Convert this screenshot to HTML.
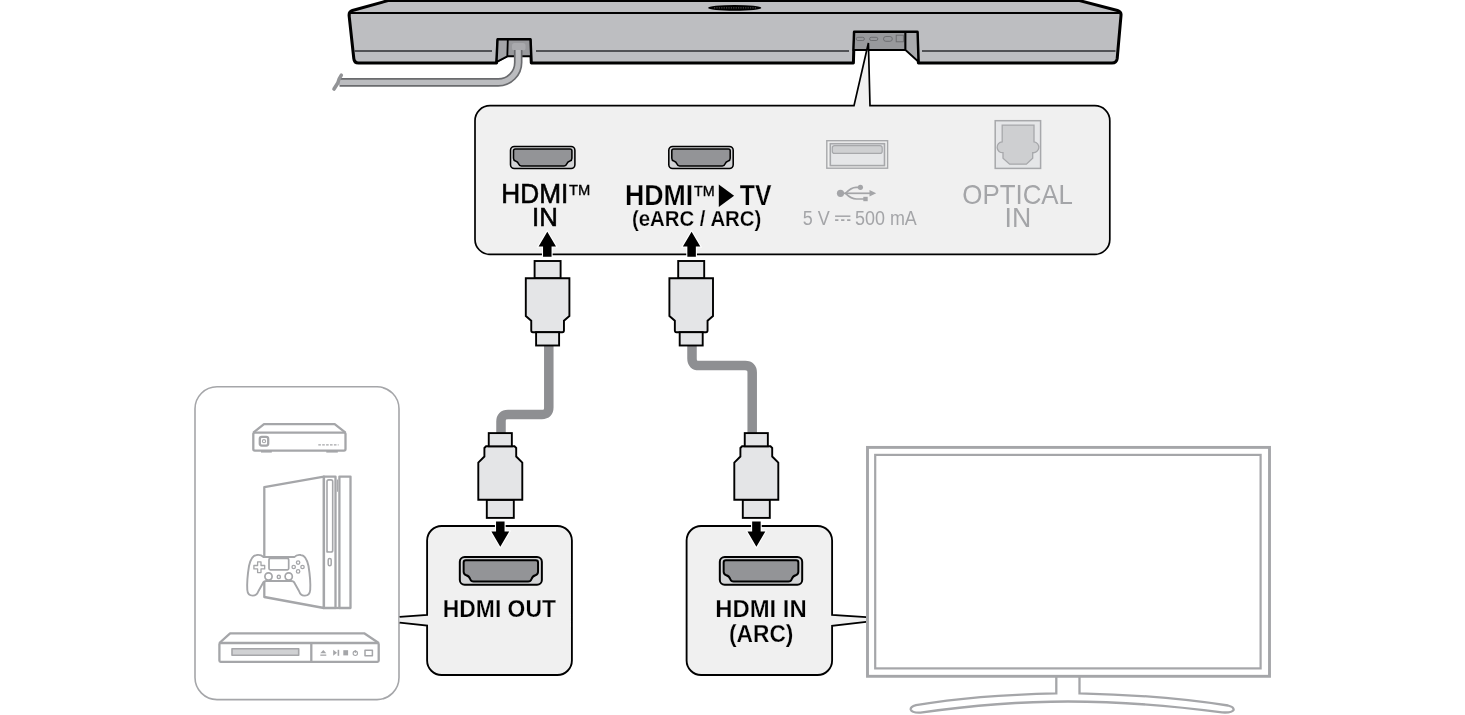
<!DOCTYPE html>
<html><head><meta charset="utf-8">
<style>
html,body{margin:0;padding:0;background:#fff;width:1465px;height:715px;overflow:hidden}
svg{display:block;will-change:transform}
text{font-family:"Liberation Sans",sans-serif}
</style></head>
<body>
<svg width="1465" height="715" viewBox="0 0 1465 715">
<defs>
  <!-- HDMI port, 66 x 23.6 -->
  <g id="port">
    <rect x="0.8" y="0.8" width="64.4" height="22.1" rx="3.8" fill="#d3d4d6" stroke="#000" stroke-width="1.55"/>
    <path d="M3.8,5.2 Q3.8,3.4 5.6,3.4 H60.4 Q62.2,3.4 62.2,5.2 V12.6 Q62.2,14.8 60.2,15.3 Q57.8,15.9 57,18.5 Q56.4,20.4 54.4,20.4 H11.6 Q9.6,20.4 9,18.5 Q8.2,15.9 5.8,15.3 Q3.8,14.8 3.8,12.6 Z" fill="#939497" stroke="#000" stroke-width="1.55" stroke-linejoin="round"/>
  </g>
  <!-- upward connector centered at 0; tip top at 0 -->
  <g id="connUp" fill="#e4e5e7" stroke="#000" stroke-width="1.9" stroke-linejoin="miter">
    <rect x="-13" y="1" width="26" height="17.3"/>
    <path d="M-21.8,18.3 H21.8 V56 L16.35,60.8 V70.6 Q16.35,72.2 14.75,72.2 H-14.75 Q-16.35,72.2 -16.35,70.6 V60.8 L-21.8,56 Z"/>
    <rect x="-11.5" y="72.2" width="23" height="13.3"/>
  </g>
  <!-- downward connector centered at 0; strain relief top at 0 -->
  <g id="connDown" fill="#e4e5e7" stroke="#000" stroke-width="1.9" stroke-linejoin="miter">
    <rect x="-13.5" y="67.7" width="27" height="18.1"/>
    <path d="M-14.2,14.2 H14.2 L15.9,15.9 V24.4 L22,30.6 V67.7 H-22 V30.6 L-15.9,24.4 V15.9 Z"/>
    <rect x="-11.55" y="1" width="23.1" height="13.2"/>
  </g>
  <g id="arrowUp">
    <path d="M0,0 L8.7,14.8 H4.25 V25 H-4.25 V14.8 H-8.7 Z" fill="#000" stroke="#fff" stroke-width="2.2" paint-order="stroke" stroke-linejoin="miter"/>
  </g>
  <g id="arrowDown">
    <path d="M0,25.4 L-8.9,10.2 H-4.25 V0 H4.25 V10.2 H8.9 Z" fill="#000" stroke="#fff" stroke-width="2.2" paint-order="stroke"/>
  </g>
</defs>

<!-- ================= SOUNDBAR ================= -->
<g id="soundbar">
  <!-- body -->
  <path d="M388,0.6 H1079.5 L1117.5,10.5 Q1121.5,11.8 1121,15.5 L1117.2,58.5 Q1116.6,63 1112,63 H918.4 L917.3,32.1 H854.3 L853.4,63 H531.3 L530.3,39.5 H497.8 L496.6,63 H358.5 Q354.2,63 353.8,58.5 L349.1,15.5 Q348.8,11.8 352.4,10.5 Z" fill="#bdbec1" stroke="#000" stroke-width="3" stroke-linejoin="round"/>
  <!-- inner top line -->
  <line x1="351" y1="13" x2="1119.5" y2="13" stroke="#000" stroke-width="1.8"/>
  <!-- inner bottom lines -->
  <line x1="354.5" y1="51" x2="492" y2="51" stroke="#2e2e30" stroke-width="1.4"/>
  <line x1="536" y1="51" x2="849" y2="51" stroke="#2e2e30" stroke-width="1.4"/>
  <line x1="922" y1="51" x2="1115.5" y2="51" stroke="#2e2e30" stroke-width="1.4"/>
  <!-- top ellipse -->
  <ellipse cx="734.7" cy="7.9" rx="26.6" ry="2.9" fill="#000"/>
  <line x1="714" y1="7.9" x2="756" y2="7.9" stroke="#777" stroke-width="0.8" stroke-dasharray="1.2 1.2"/>
  <!-- left recess -->
  <path d="M497.8,39.5 H530.3 L531,56.3 H507.3 L496.8,61.8 Z" fill="#98999c" stroke="#000" stroke-width="2" stroke-linejoin="round"/>
  <path d="M497.8,39.5 H507.8 L507.3,56.3 L496.8,61.8 Z" fill="#a4a5a8" stroke="#000" stroke-width="1.8" stroke-linejoin="round"/>
  <rect x="512" y="43" width="13.5" height="7.5" rx="2.5" fill="#a9aaad"/>
  <!-- right recess -->
  <path d="M854.3,32.1 H905.5 V50 H853.6 Z" fill="#98999c" stroke="#000" stroke-width="2"/>
  <path d="M905.5,32.1 H917.3 L918.2,61.5 L905.5,50 Z" fill="#a9aaad" stroke="#000" stroke-width="1.8" stroke-linejoin="round"/>
  <g fill="none" stroke="#6a6b6e" stroke-width="0.9">
    <rect x="856.2" y="37.3" width="8.2" height="3.2" rx="1.6"/>
    <rect x="869.6" y="37.3" width="8.2" height="3.2" rx="1.6"/>
    <rect x="883.5" y="36.5" width="8.8" height="4.8" rx="2.4"/>
    <rect x="896.2" y="35.2" width="7.2" height="6.6"/>
  </g>
</g>

<!-- power cable -->
<path d="M518.2,50 V62.4 A20,20 0 0 1 498.2,82.4 H339.5" fill="none" stroke="#6a6b6e" stroke-width="8.6"/>
<path d="M518.2,50 V62.4 A20,20 0 0 1 498.2,82.4 H339.5" fill="none" stroke="#bbbcbf" stroke-width="5.2"/>
<path d="M341.3,75.2 Q338.5,79 337.8,83 L334,89" fill="none" stroke="#929396" stroke-width="3.6" stroke-linecap="round"/>

<!-- ================= TOP PANEL ================= -->
<path d="M490,105.7 H854 L868.4,43 L870,105.7 H1094.8 A15,15 0 0 1 1109.8,120.7 V239.4 A15,15 0 0 1 1094.8,254.4 H490 A15,15 0 0 1 475,239.4 V120.7 A15,15 0 0 1 490,105.7 Z" fill="#f0f0f0" stroke="#000" stroke-width="1.7" stroke-linejoin="miter"/>

<use href="#port" x="509.7" y="145.6"/>
<use href="#port" x="668" y="145.6"/>

<!-- HDMI IN text -->
<text x="501.3" y="202.9" font-size="27.2" fill="#000" stroke="#000" stroke-width="0.6" textLength="66.96" lengthAdjust="spacingAndGlyphs">HDMI</text>
<text x="568.93" y="195.1" font-size="15.5" fill="#000" stroke="#000" stroke-width="0.35" textLength="21.3" lengthAdjust="spacingAndGlyphs">TM</text>
<text x="532.1" y="226.2" font-size="26.7" fill="#000" stroke="#000" stroke-width="0.6" textLength="25.8" lengthAdjust="spacingAndGlyphs">IN</text>

<!-- HDMI > TV text -->
<text x="625.07" y="204.5" font-size="28.9" font-weight="bold" fill="#000" stroke="#f0f0f0" stroke-width="0.25" textLength="68.17" lengthAdjust="spacingAndGlyphs">HDMI</text>
<text x="693.94" y="195.7" font-size="15.4" fill="#000" stroke="#000" stroke-width="0.4" textLength="20.66" lengthAdjust="spacingAndGlyphs">TM</text>
<path d="M718.8,184.6 L734.1,195.75 L718.8,206.9 Z" fill="#000"/>
<text x="739.85" y="204.5" font-size="28.9" font-weight="bold" fill="#000" stroke="#f0f0f0" stroke-width="0.25" textLength="31.64" lengthAdjust="spacingAndGlyphs">TV</text>
<text x="631.88" y="225.5" font-size="22.9" font-weight="bold" fill="#000" stroke="#f0f0f0" stroke-width="0.25" textLength="129.47" lengthAdjust="spacingAndGlyphs">(eARC / ARC)</text>

<!-- USB -->
<rect x="826.8" y="140.7" width="60.8" height="27.5" fill="#f0f0f0" stroke="#a7a8ab" stroke-width="1.4"/>
<rect x="830.3" y="143.7" width="54.2" height="21.9" fill="#e5e6e8" stroke="#a7a8ab" stroke-width="1.6"/>
<rect x="832.3" y="145.7" width="49.9" height="7.7" rx="2.2" fill="#cfd0d2" stroke="#a7a8ab" stroke-width="1.2"/>
<g fill="#a4a5a8" stroke="#a4a5a8">
  <circle cx="840.5" cy="193.3" r="3.6" stroke="none"/>
  <path d="M840.5,193.3 H871" stroke-width="1.7" fill="none"/>
  <path d="M876.2,193.3 L869.5,190.1 V196.5 Z" stroke="none"/>
  <path d="M845.5,193.3 C849,189.6 852,187.3 856,187.3 H859" stroke-width="1.7" fill="none"/>
  <circle cx="860.4" cy="187.3" r="2.6" stroke="none"/>
  <path d="M845.5,193.3 C849.5,197.3 852.5,199 856.5,199 H864" stroke-width="1.7" fill="none"/>
  <rect x="863.3" y="196.8" width="4.4" height="4.4" stroke="none"/>
</g>
<text x="802.68" y="224.9" font-size="20.3" fill="#a4a5a8" textLength="27.03" lengthAdjust="spacingAndGlyphs">5 V</text>
<line x1="835.1" y1="216.2" x2="850.4" y2="216.2" stroke="#a4a5a8" stroke-width="1.5"/>
<line x1="835.1" y1="220.1" x2="850.4" y2="220.1" stroke="#a4a5a8" stroke-width="1.6" stroke-dasharray="3.3 2.7"/>
<text x="854.98" y="224.9" font-size="20.3" fill="#a4a5a8" textLength="61.83" lengthAdjust="spacingAndGlyphs">500 mA</text>

<!-- OPTICAL -->
<rect x="995.2" y="120.7" width="45.4" height="47.7" fill="#e5e6e8" stroke="#a7a8ab" stroke-width="1.5"/>
<path d="M1002.2,125.1 H1034 V141.8 A5.45,5.45 0 0 1 1032.7,152.7 V158.2 L1026.4,164.2 H1009.6 L1003,158.2 V152.7 A5.45,5.45 0 0 1 1002.2,141.8 Z" fill="#cecfd1" stroke="#a7a8ab" stroke-width="1.3"/>
<text x="962.34" y="203.8" font-size="27.25" fill="#a4a5a8" textLength="110.64" lengthAdjust="spacingAndGlyphs">OPTICAL</text>
<text x="1004.6" y="227.1" font-size="27.25" fill="#a4a5a8" textLength="26.63" lengthAdjust="spacingAndGlyphs">IN</text>

<!-- ================= CABLES & CONNECTORS ================= -->
<g fill="none" stroke="#8e8f92" stroke-width="9.5" stroke-linejoin="round">
  <path d="M548.8,345 V407.5 Q548.8,414.5 541.8,414.5 H508 Q501,414.5 501,421.5 V433"/>
  <path d="M692,345 V358.5 Q692,365.6 699,365.6 H745.2 Q752.2,365.6 752.2,372.6 V433"/>
</g>

<use href="#arrowUp" x="547.3" y="231.7"/>
<use href="#arrowUp" x="691.6" y="231.7"/>

<use href="#connUp" x="547.6" y="260"/>
<use href="#connUp" x="691.2" y="260"/>
<use href="#connDown" x="500.3" y="432.1"/>
<use href="#connDown" x="756.3" y="432.1"/>

<!-- ================= DEVICE PANEL (left) ================= -->
<rect x="195" y="386.8" width="204" height="312.8" rx="22" fill="#fff" stroke="#a5a6a9" stroke-width="1.6"/>
<g fill="none" stroke="#a5a6a9" stroke-width="2.3" stroke-linejoin="round">
  <!-- set top box -->
  <path d="M253.3,432.6 L264,424.1 H334.7 L345.5,432.6"/>
  <rect x="253.3" y="432.6" width="92.2" height="18" rx="1.5"/>
  <rect x="259.8" y="436.9" width="8.4" height="8.7" rx="2"/>
  <circle cx="264" cy="441.2" r="1.6" stroke-width="1.1"/>
  <line x1="261" y1="451.8" x2="271.8" y2="451.8" stroke-width="1.6"/>
  <line x1="326.3" y1="451.8" x2="337.8" y2="451.8" stroke-width="1.6"/>
  <line x1="318.3" y1="444.9" x2="338.6" y2="444.9" stroke-width="1.4" stroke-dasharray="2.6 1.3"/>
  <!-- console -->
  <path d="M264.3,487.2 L323.9,476.6 V608 L264.3,597 Z"/>
  <rect x="323.9" y="476.6" width="11.6" height="131.4"/>
  <path d="M327,552 V481.6 Q327,479.9 328.7,479.9 H331 Q332.7,479.9 332.7,481.6 V550.2 Q332.7,552 331,552 H328.7 Q327,552 327,550.2 Z" stroke-width="1.6"/>
  <rect x="328.2" y="558.6" width="3" height="7.2" rx="1.5" stroke-width="1.5"/>
  <rect x="339.4" y="476.6" width="11.1" height="131.4"/>
  <line x1="337.4" y1="479.5" x2="337.4" y2="491.7" stroke-width="1.1"/>
  <line x1="335.5" y1="608" x2="339.4" y2="608"/>
  <!-- controller -->
  <path d="M263.5,557 H294.5 C296,555 298,554.5 301,555 C305,555.5 307,559 308.5,566 C309.8,574 310.6,584 310.2,590 C309.8,594.6 307.3,595.6 305,595.6 C302,596 300,594 299,591 L294.5,583 C294,581.5 293,581 291,581 H266.5 C264.5,581 263.5,581.5 263,583 L258.5,591 C257.5,593.8 255.5,595.6 252.7,595.6 C250.2,595.6 247.6,594.6 247.3,590 C246.9,584 247.7,574 249,566 C250.5,559 252.5,555.5 256.5,555 C259.5,554.5 261.5,555 263.5,557 Z" fill="#fff" stroke-width="1.9"/>
  <rect x="269" y="558.4" width="19.7" height="11.4" rx="1.3" stroke-width="1.7"/>
  <circle cx="268.5" cy="576.5" r="3.6" stroke-width="1.7"/>
  <circle cx="288.7" cy="576.5" r="3.6" stroke-width="1.7"/>
  <circle cx="278.8" cy="576.9" r="1.6" stroke-width="1.4"/>
  <path d="M257.6,561.8 H261 V565.5 H264.7 V568.9 H261 V572.6 H257.6 V568.9 H253.9 V565.5 H257.6 Z" stroke-width="1.3" stroke-linejoin="round"/>
  <circle cx="298.1" cy="562.6" r="1.7" stroke-width="1.3"/>
  <circle cx="298.1" cy="571.4" r="1.7" stroke-width="1.3"/>
  <circle cx="293.7" cy="567" r="1.7" stroke-width="1.3"/>
  <circle cx="302.5" cy="567" r="1.7" stroke-width="1.3"/>
  <!-- blu-ray -->
  <path d="M219.4,643 L230.1,633.3 H364.2 L378.7,643"/>
  <rect x="219.4" y="643" width="159.3" height="18.8" rx="1.2"/>
  <line x1="311.3" y1="643" x2="311.3" y2="661.8"/>
  <rect x="232" y="648.7" width="66.7" height="6.6" fill="#d0d1d3" stroke-width="1.6"/>
  <rect x="365" y="650.3" width="7.4" height="5.4" stroke-width="1.5"/>
</g>
<g fill="#a5a6a9">
  <path d="M320.3,653.3 L323.3,650 L326.3,653.3 Z"/>
  <rect x="320.3" y="654.5" width="6" height="1.3"/>
  <path d="M333.2,649.8 L337,652.8 L333.2,655.8 Z"/>
  <rect x="337.6" y="649.8" width="1.6" height="6"/>
  <rect x="343.3" y="650.2" width="4.8" height="5.2"/>
  <circle cx="355.3" cy="653.3" r="2.2" fill="none" stroke="#a5a6a9" stroke-width="1.1"/>
  <rect x="354.8" y="650" width="1" height="3"/>
</g>

<!-- ================= BOTTOM PANELS ================= -->
<!-- HDMI OUT panel with pointer to device panel -->
<path d="M441.6,526 H557.4 A14.5,14.5 0 0 1 571.9,540.5 V660.5 A14.5,14.5 0 0 1 557.4,675 H441.6 A14.5,14.5 0 0 1 427.1,660.5 V625.7 L399.6,622.6 V616.8 L427.1,614.8 V540.5 A14.5,14.5 0 0 1 441.6,526 Z" fill="#f0f0f0"/>
<path d="M399.6,622.6 L427.1,625.7 V660.5 A14.5,14.5 0 0 0 441.6,675 H557.4 A14.5,14.5 0 0 0 571.9,660.5 V540.5 A14.5,14.5 0 0 0 557.4,526 H441.6 A14.5,14.5 0 0 0 427.1,540.5 V614.8 L399.6,616.8" fill="none" stroke="#000" stroke-width="1.85"/>
<use href="#port" transform="translate(458.8,556) scale(1.274,1.254)"/>
<text x="442.81" y="616.6" font-size="24.2" font-weight="bold" fill="#000" stroke="#f0f0f0" stroke-width="0.25" textLength="113.09" lengthAdjust="spacingAndGlyphs">HDMI OUT</text>

<!-- HDMI IN (ARC) panel with pointer to TV -->
<path d="M701.1,526 H817.6 A14.5,14.5 0 0 1 832.1,540.5 V614.8 L866.2,617.1 V621.8 L832.1,625.8 V660.5 A14.5,14.5 0 0 1 817.6,675 H701.1 A14.5,14.5 0 0 1 686.6,660.5 V540.5 A14.5,14.5 0 0 1 701.1,526 Z" fill="#f0f0f0"/>
<path d="M866.2,617.1 L832.1,614.8 V540.5 A14.5,14.5 0 0 0 817.6,526 H701.1 A14.5,14.5 0 0 0 686.6,540.5 V660.5 A14.5,14.5 0 0 0 701.1,675 H817.6 A14.5,14.5 0 0 0 832.1,660.5 V625.8 L866.2,621.8" fill="none" stroke="#000" stroke-width="1.85"/>
<use href="#port" transform="translate(718.8,556) scale(1.279,1.254)"/>
<text x="715.25" y="616.9" font-size="24.4" font-weight="bold" fill="#000" stroke="#f0f0f0" stroke-width="0.25" textLength="91.48" lengthAdjust="spacingAndGlyphs">HDMI IN</text>
<text x="729.06" y="641.6" font-size="24" font-weight="bold" fill="#000" stroke="#f0f0f0" stroke-width="0.25" textLength="64.32" lengthAdjust="spacingAndGlyphs">(ARC)</text>

<use href="#arrowDown" x="500.3" y="521.4"/>
<use href="#arrowDown" x="756.4" y="521.4"/>

<!-- ================= TV ================= -->
<g fill="none" stroke="#a5a6a9" stroke-linejoin="miter">
  <rect x="867.5" y="447.4" width="402" height="228.9" stroke-width="2.9"/>
  <rect x="875.2" y="454.9" width="385.4" height="213.5" stroke-width="2.2"/>
  <path d="M1056.3,676.3 V693.3 Q975,695 916,705.2 Q910,706.8 910.8,709.6 Q912,713 920.5,712.6 Q1000,701.5 1068,701.5 Q1140,701.5 1222,712.4 Q1232,713 1233.6,710 Q1234,707 1228,705.5 Q1160,695 1079.5,693.3 V676.3" stroke-width="2.3" fill="none"/>
</g>

</svg>
</body></html>
